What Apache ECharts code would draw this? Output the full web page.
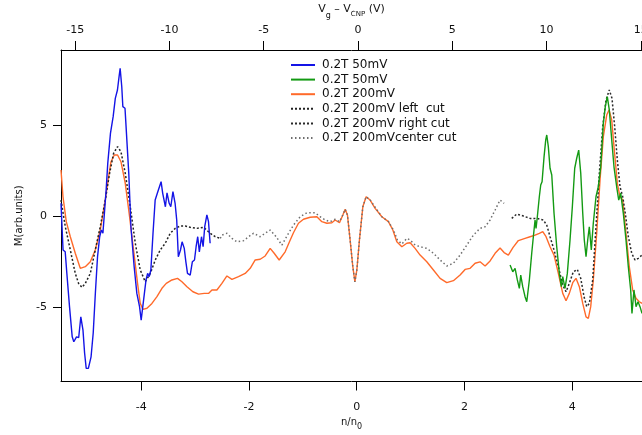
<!DOCTYPE html>
<html>
<head>
<meta charset="utf-8">
<script src="https://cdn.jsdelivr.net/npm/echarts@6/dist/echarts.min.js"></script>
<style>html,body{margin:0;padding:0;background:#fff}#c{width:642px;height:435px}</style>
</head>
<body>
<div id="c"></div>
<script>
// ---- tick labels ----
const bottomTicks = [-4, -2, 0, 2, 4];
const topTicks = [-15, -10, -5, 0, 5, 10, 15];
const leftTicks = [-5, 0, 5];

// ---- series: [n/n0, M] ----
const blue50 = [[-5.488,0.70],[-5.45,-1.87],[-5.41,-1.97],[-5.38,-3.14],[-5.33,-4.99],[-5.28,-6.65],[-5.25,-6.92],[-5.20,-6.65],[-5.16,-6.70],[-5.12,-5.55],[-5.08,-6.28],[-5.05,-7.54],[-5.02,-8.39],[-4.98,-8.39],[-4.93,-7.75],[-4.89,-6.44],[-4.85,-4.24],[-4.81,-2.24],[-4.77,-1.14],[-4.74,-0.77],[-4.71,-0.94],[-4.68,-0.86],[-4.65,1.43],[-4.62,2.90],[-4.57,4.55],[-4.52,5.47],[-4.48,6.48],[-4.44,6.94],[-4.41,7.67],[-4.39,8.13],[-4.36,7.12],[-4.34,6.02],[-4.30,5.93],[-4.28,4.92],[-4.23,2.35],[-4.19,-0.59],[-4.13,-2.79],[-4.08,-4.26],[-4.03,-4.99],[-4.00,-5.73],[-3.97,-5.82],[-3.94,-4.26],[-3.91,-3.52],[-3.88,-3.16],[-3.85,-3.34],[-3.82,-2.97],[-3.78,-0.95],[-3.74,0.88],[-3.70,1.25],[-3.63,1.89],[-3.60,1.25],[-3.55,0.51],[-3.52,1.28],[-3.48,0.70],[-3.45,0.51],[-3.41,1.34],[-3.37,0.70],[-3.34,-0.22],[-3.31,-2.24],[-3.27,-1.87],[-3.24,-1.42],[-3.20,-1.78],[-3.17,-2.52],[-3.14,-3.16],[-3.09,-3.25],[-3.05,-2.52],[-3.01,-2.42],[-2.98,-1.69],[-2.95,-1.14],[-2.92,-1.97],[-2.88,-1.14],[-2.85,-1.69],[-2.82,-0.59],[-2.78,0.06],[-2.75,-0.31],[-2.72,-1.50]];

const green50 = [[2.848,-2.70],[2.898,-3.07],[2.941,-2.88],[2.983,-3.52],[3.020,-3.98],[3.046,-3.25],[3.083,-3.89],[3.126,-4.44],[3.158,-4.72],[3.206,-3.52],[3.250,-2.05],[3.280,-1.14],[3.312,-0.22],[3.330,-0.68],[3.354,-0.04],[3.391,1.06],[3.417,1.71],[3.442,1.89],[3.479,3.27],[3.510,4.19],[3.529,4.46],[3.558,3.82],[3.590,2.63],[3.622,2.26],[3.664,0.15],[3.714,-1.69],[3.763,-3.16],[3.800,-3.89],[3.826,-3.34],[3.868,-3.98],[3.911,-3.16],[3.961,-1.32],[4.004,0.51],[4.048,2.63],[4.085,3.18],[4.122,3.63],[4.160,2.35],[4.197,0.15],[4.226,-1.32],[4.258,-2.24],[4.289,-1.32],[4.319,-0.59],[4.356,-1.87],[4.393,-0.40],[4.443,1.06],[4.486,1.61],[4.531,2.71],[4.579,5.10],[4.616,6.02],[4.653,6.57],[4.690,5.84],[4.735,4.19],[4.777,2.71],[4.827,1.61],[4.865,0.88],[4.902,1.25],[4.950,0.15],[5.000,-1.32],[5.043,-2.79],[5.087,-4.07],[5.111,-5.36],[5.148,-4.07],[5.186,-4.99],[5.223,-4.72],[5.260,-4.99],[5.297,-5.36]];

const orange200 = [[-5.488,2.53],[-5.451,1.06],[-5.390,-0.31],[-5.315,-1.14],[-5.223,-2.05],[-5.130,-2.88],[-5.037,-2.79],[-4.944,-2.52],[-4.852,-1.87],[-4.759,-0.77],[-4.666,0.88],[-4.605,2.16],[-4.560,2.99],[-4.499,3.36],[-4.438,3.36],[-4.375,2.99],[-4.295,1.80],[-4.215,-0.04],[-4.141,-1.87],[-4.067,-3.71],[-4.017,-4.81],[-3.967,-5.14],[-3.892,-5.08],[-3.800,-4.81],[-3.707,-4.44],[-3.614,-3.98],[-3.534,-3.71],[-3.429,-3.52],[-3.325,-3.43],[-3.243,-3.62],[-3.150,-3.89],[-3.039,-4.17],[-2.935,-4.30],[-2.829,-4.26],[-2.750,-4.26],[-2.686,-4.07],[-2.594,-4.07],[-2.501,-3.71],[-2.408,-3.30],[-2.315,-3.49],[-2.193,-3.34],[-2.069,-3.16],[-1.976,-2.88],[-1.883,-2.42],[-1.790,-2.38],[-1.698,-2.20],[-1.605,-1.78],[-1.531,-2.05],[-1.438,-2.42],[-1.327,-1.97],[-1.247,-1.42],[-1.173,-0.92],[-1.080,-0.40],[-0.987,-0.18],[-0.863,-0.07],[-0.738,-0.04],[-0.646,-0.31],[-0.553,-0.40],[-0.460,-0.37],[-0.399,-0.22],[-0.319,-0.37],[-0.256,0.06],[-0.213,0.37],[-0.171,0.06],[-0.121,-1.32],[-0.071,-2.79],[-0.033,-3.62],[0.004,-2.97],[0.052,-1.32],[0.115,0.51],[0.176,1.06],[0.250,0.88],[0.343,0.42],[0.468,-0.04],[0.590,-0.31],[0.672,-0.77],[0.746,-1.42],[0.839,-1.69],[0.931,-1.50],[0.993,-1.47],[1.085,-1.78],[1.178,-2.15],[1.302,-2.52],[1.425,-2.97],[1.549,-3.43],[1.673,-3.67],[1.796,-3.56],[1.920,-3.25],[2.013,-2.94],[2.106,-2.88],[2.199,-2.60],[2.291,-2.52],[2.384,-2.75],[2.477,-2.47],[2.570,-2.05],[2.662,-1.76],[2.737,-2.01],[2.816,-2.15],[2.904,-1.73],[3.002,-1.35],[3.126,-1.23],[3.219,-1.14],[3.312,-1.05],[3.391,-0.95],[3.455,-0.86],[3.516,-1.14],[3.590,-1.69],[3.664,-2.15],[3.744,-3.16],[3.826,-4.26],[3.887,-4.66],[3.948,-4.26],[4.011,-3.67],[4.072,-3.43],[4.134,-3.89],[4.197,-4.81],[4.258,-5.55],[4.301,-5.63],[4.345,-4.99],[4.393,-3.52],[4.456,-0.95],[4.518,1.98],[4.579,4.37],[4.642,5.56],[4.685,5.84],[4.735,5.29],[4.783,3.63],[4.839,1.80],[4.889,1.06],[4.939,0.88],[5.000,-0.95],[5.061,-2.79],[5.124,-4.07],[5.186,-4.53],[5.247,-4.72],[5.297,-4.81]];

const leftCut = [[-5.488,0.88],[-5.408,-0.59],[-5.315,-1.87],[-5.223,-3.16],[-5.161,-3.71],[-5.098,-3.93],[-5.037,-3.71],[-4.944,-3.16],[-4.852,-1.87],[-4.759,-0.59],[-4.666,0.88],[-4.586,2.35],[-4.512,3.45],[-4.438,3.82],[-4.375,3.54],[-4.295,2.35],[-4.202,0.51],[-4.109,-1.50],[-4.017,-2.97],[-3.924,-3.62],[-3.831,-3.16],[-3.738,-2.42],[-3.646,-1.87],[-3.553,-1.50],[-3.460,-0.95],[-3.367,-0.68],[-3.275,-0.55],[-3.182,-0.55],[-3.089,-0.62],[-2.965,-0.68],[-2.842,-0.62],[-2.718,-0.95],[-2.625,-1.14],[-2.532,-1.23]];

const rightCut = [[2.879,-0.13],[2.972,0.11],[3.095,0.00],[3.219,-0.13],[3.343,-0.13],[3.466,-0.22],[3.529,-0.50],[3.590,-1.14],[3.664,-1.87],[3.744,-2.79],[3.826,-3.80],[3.887,-4.17],[3.948,-3.71],[4.022,-3.07],[4.096,-2.94],[4.160,-3.43],[4.221,-4.44],[4.271,-4.99],[4.319,-4.81],[4.382,-3.52],[4.443,-0.59],[4.505,2.35],[4.568,4.92],[4.629,6.39],[4.690,6.94],[4.740,6.48],[4.790,4.92],[4.839,3.08],[4.889,1.61],[4.939,1.06],[4.987,0.15],[5.043,-1.14],[5.106,-2.05],[5.167,-2.42],[5.228,-2.33],[5.297,-2.15]];

const centerCut = [[-2.532,-1.23],[-2.501,-1.05],[-2.408,-0.95],[-2.315,-1.23],[-2.223,-1.42],[-2.100,-1.36],[-2.007,-1.14],[-1.915,-0.95],[-1.790,-1.14],[-1.698,-0.95],[-1.605,-0.77],[-1.494,-1.14],[-1.388,-1.60],[-1.284,-1.05],[-1.173,-0.50],[-1.048,-0.04],[-0.924,0.18],[-0.770,0.18],[-0.677,-0.04],[-0.584,-0.22],[-0.492,-0.31],[-0.399,-0.18],[-0.319,-0.31],[-0.256,0.06],[-0.213,0.37],[-0.171,0.06],[-0.121,-1.32],[-0.071,-2.79],[-0.033,-3.62],[0.004,-2.97],[0.052,-1.32],[0.115,0.51],[0.176,1.06],[0.250,0.88],[0.343,0.48],[0.468,-0.04],[0.590,-0.31],[0.683,-0.77],[0.757,-1.32],[0.839,-1.54],[0.931,-1.23],[0.993,-1.32],[1.085,-1.60],[1.178,-1.69],[1.302,-1.78],[1.425,-2.05],[1.549,-2.42],[1.673,-2.75],[1.796,-2.60],[1.920,-2.15],[2.045,-1.60],[2.167,-1.05],[2.291,-0.68],[2.384,-0.59],[2.477,-0.22],[2.570,0.33],[2.662,0.88],[2.737,0.70]];

const names = ['0.2T 50mV', '0.2T 50mV ', '0.2T 200mV', '0.2T 200mV left  cut', '0.2T 200mV right cut', '0.2T 200mVcenter cut'];

const font = 'DejaVu Sans';
const chart = echarts.init(document.getElementById('c'), null, {renderer: 'canvas'});

function line(name, data, color, width, type, z) {
  return {
    name, type: 'line', data, xAxisIndex: 0, yAxisIndex: 0,
    showSymbol: false, symbol: 'none', animation: false, z,
    lineStyle: {color, width, type},
    itemStyle: {color}
  };
}

chart.setOption({
  animation: false,
  backgroundColor: '#fff',
  grid: {left: 61, right: 0, top: 50, bottom: 53.5, containLabel: false, outerBoundsMode: 'none'},
  legend: {
    data: names,
    orient: 'vertical', left: 290, top: 59,
    itemWidth: 24, itemHeight: 10, itemGap: 2.6, padding: 0,
    itemStyle: {opacity: 0, borderWidth: 0},
    textStyle: {fontFamily: font, fontSize: 12, color: '#111', padding: [0, 0, 0, 2]}
  },
  xAxis: [{
    type: 'value', position: 'bottom', min: -5.488, max: 5.297,
    name: '{a|n/n}{s|0}', nameLocation: 'middle', nameGap: 35,
    nameTextStyle: {rich: {a: {fontFamily: font, fontSize: 10, color: '#111'}, s: {fontFamily: font, fontSize: 8, color: '#111', verticalAlign: 'bottom', padding: [0,0,-4,0]}}},
    axisLine: {show: true, onZero: false, lineStyle: {color: '#000', width: 1}},
    axisTick: {show: true, inside: false, length: 9, customValues: bottomTicks, lineStyle: {color: '#000'}},
    axisLabel: {customValues: bottomTicks, margin: 20, fontFamily: font, fontSize: 11, color: '#111'},
    splitLine: {show: false}
  }, {
    type: 'value', position: 'top', min: -15.75, max: 15.06,
    name: '{a|V}{s|g}{a| – V}{c|CNP}{a| (V)}', nameLocation: 'middle', nameGap: 31,
    nameTextStyle: {rich: {a: {fontFamily: font, fontSize: 11, color: '#111'}, s: {fontFamily: font, fontSize: 8, color: '#111', verticalAlign: 'bottom', padding: [0,0,-5,0]}, c: {fontFamily: font, fontSize: 7, color: '#111', verticalAlign: 'bottom', padding: [0,0,-3,0]}}},
    axisLine: {show: true, onZero: false, lineStyle: {color: '#000', width: 1}},
    axisTick: {show: true, inside: false, length: 9, customValues: topTicks, lineStyle: {color: '#000'}},
    axisLabel: {customValues: topTicks, margin: 14, fontFamily: font, fontSize: 11, color: '#111'},
    splitLine: {show: false}
  }],
  yAxis: [{
    type: 'value', position: 'left', min: -9.11, max: 9.14,
    name: 'M(arb.units)', nameLocation: 'middle', nameGap: 37,
    nameTextStyle: {fontFamily: font, fontSize: 10, color: '#111'},
    axisLine: {show: true, onZero: false, lineStyle: {color: '#000', width: 1}},
    axisTick: {show: true, inside: false, length: 8, customValues: leftTicks, lineStyle: {color: '#000'}},
    axisLabel: {customValues: leftTicks, margin: 14, fontFamily: font, fontSize: 11, color: '#111'},
    splitLine: {show: false}
  }],
  series: [
    line(names[2], orange200, '#ff6a2a', 1.4, 'solid', 2),
    line(names[3], leftCut, '#222222', 1.5, [2, 2], 3),
    line(names[4], rightCut, '#2a2a2a', 1.5, [2, 2], 3),
    line(names[5], centerCut, '#6e6e6e', 1.5, [1.5, 2.5], 3),
    line(names[0], blue50, '#1414e6', 1.4, 'solid', 4),
    line(names[1], green50, '#139a13', 1.4, 'solid', 4)
  ]
});
</script>
</body>
</html>
